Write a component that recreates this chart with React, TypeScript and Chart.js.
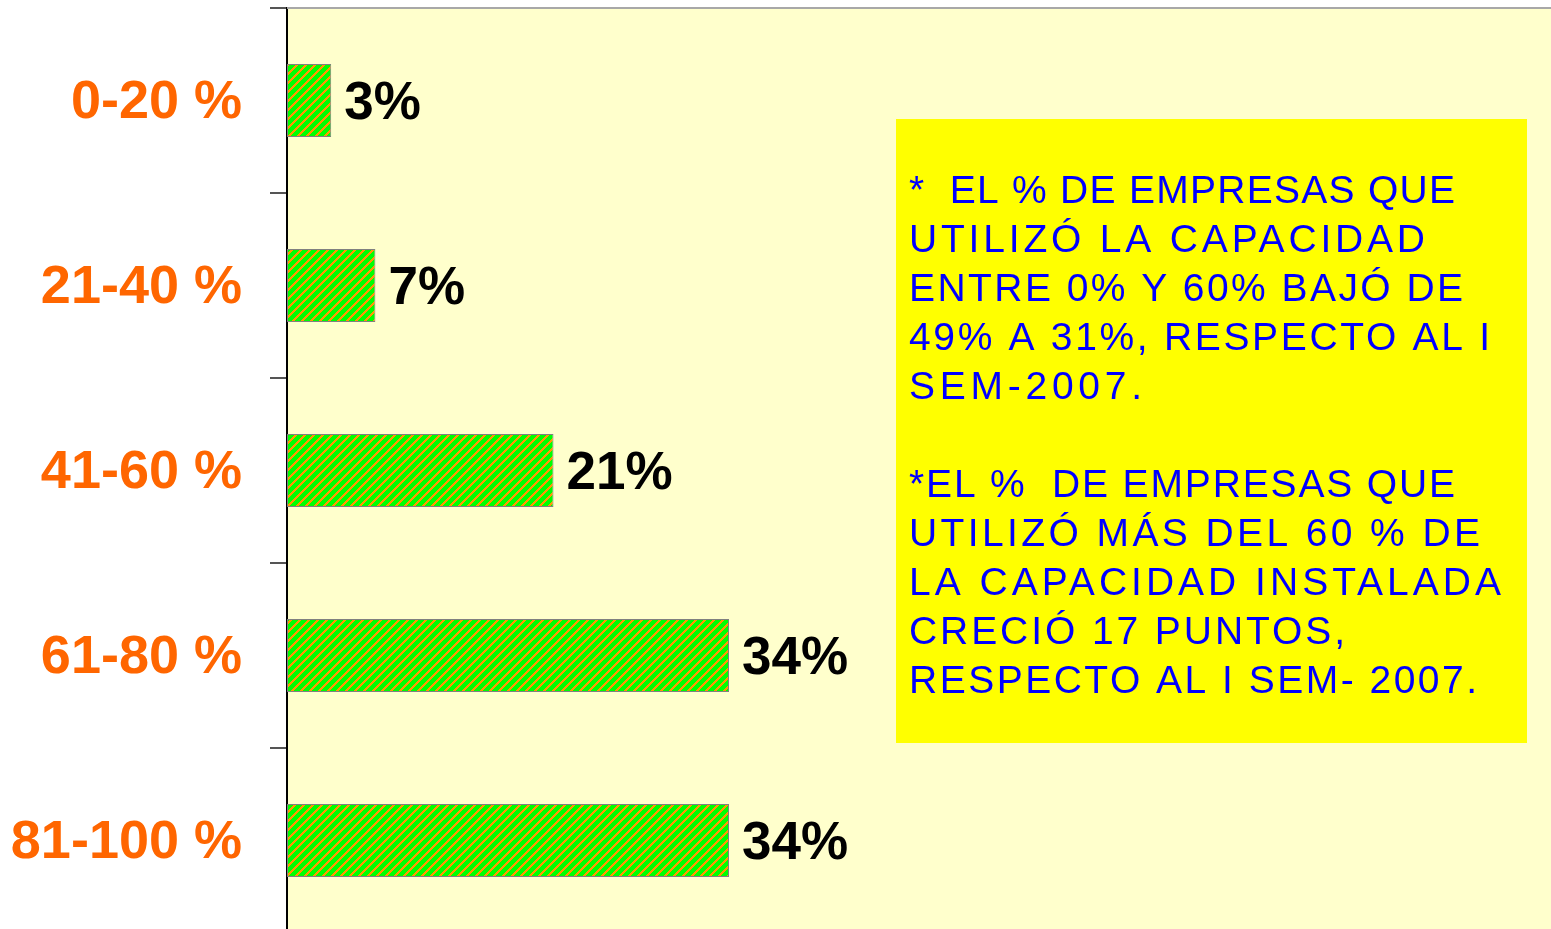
import React, { useEffect, useRef } from "react";
import { Chart, registerables } from "chart.js";

Chart.register(...registerables);

const categories = ["0-20 %", "21-40 %", "41-60 %", "61-80 %", "81-100 %"];
const values = [3.4, 6.8, 20.5, 34, 34];
const xMin = 0;
const xMax = 100;

const noteParagraph1 = [
  "*  EL % DE EMPRESAS QUE",
  "UTILIZÓ LA CAPACIDAD",
  "ENTRE 0% Y 60% BAJÓ DE",
  "49% A 31%, RESPECTO AL I",
  "SEM-2007.",
];
const noteParagraph2 = [
  "*EL %  DE EMPRESAS QUE",
  "UTILIZÓ MÁS DEL 60 % DE",
  "LA CAPACIDAD INSTALADA",
  "CRECIÓ 17 PUNTOS,",
  "RESPECTO AL I SEM- 2007.",
];

const FONT = "'Liberation Sans', Arial, sans-serif";

function makePattern(): CanvasPattern | string {
  const P = 9;
  const t = document.createElement("canvas");
  t.width = P;
  t.height = P;
  const c = t.getContext("2d");
  if (!c) return "#00FF00";
  const img = c.createImageData(P, P);
  for (let y = 0; y < P; y++) {
    for (let x = 0; x < P; x++) {
      const i = (y * P + x) * 4;
      const d = (x + y) % P;
      const orange = d < 3;
      if (orange) {
        img.data[i] = 0xff;
        img.data[i + 1] = 0x99;
        img.data[i + 2] = 0x00;
      } else {
        img.data[i] = 0x00;
        img.data[i + 1] = 0xff;
        img.data[i + 2] = 0x00;
      }
      img.data[i + 3] = 255;
    }
  }
  c.putImageData(img, 0, 0);
  const pat = c.createPattern(t, "repeat");
  return pat || "#00FF00";
}

const bgPlugin = {
  id: "bgPlugin",
  beforeDraw(chart: any) {
    const { ctx, chartArea } = chart;
    ctx.save();
    ctx.fillStyle = "#FFFFCC";
    ctx.fillRect(chartArea.left, chartArea.top, chartArea.right - chartArea.left, chartArea.bottom - chartArea.top);
    ctx.restore();
  },
  afterDraw(chart: any) {
    const { ctx, chartArea } = chart;
    ctx.save();
    ctx.strokeStyle = "#A8A8A8";
    ctx.lineWidth = 2;
    ctx.beginPath();
    ctx.moveTo(chartArea.left, chartArea.top);
    ctx.lineTo(chartArea.right, chartArea.top);
    ctx.stroke();
    ctx.restore();
  },
};

const labelPlugin = {
  id: "labelPlugin",
  afterDatasetsDraw(chart: any) {
    const { ctx } = chart;
    const meta = chart.getDatasetMeta(0);
    ctx.save();
    ctx.fillStyle = "#000000";
    ctx.font = `bold 53px ${FONT}`;
    ctx.textAlign = "left";
    ctx.textBaseline = "middle";
    meta.data.forEach((bar: any, i: number) => {
      ctx.fillText(`${Math.round(values[i])}%`, bar.x + 13, bar.y + 4);
    });
    ctx.restore();
  },
};

const noteWidths1 = [546, 516, 554, 581, 233];
const noteWidths2 = [546, 571, 592, 436, 568];

const notePlugin = {
  id: "notePlugin",
  afterDraw(chart: any) {
    const { ctx } = chart;
    ctx.save();
    ctx.fillStyle = "#FFFF00";
    ctx.fillRect(896, 119, 631, 624);
    ctx.fillStyle = "#0000FF";
    ctx.font = `39px ${FONT}`;
    ctx.textAlign = "left";
    ctx.textBaseline = "alphabetic";
    const draw = (lines: string[], widths: number[], y0: number) => {
      lines.forEach((line, i) => {
        (ctx as any).letterSpacing = "0px";
        const w0 = ctx.measureText(line).width;
        const n = Array.from(line).length;
        const sp = n > 1 ? (widths[i] - w0) / (n - 1) : 0;
        (ctx as any).letterSpacing = `${sp}px`;
        ctx.fillText(line, 909, y0 + i * 49);
      });
    };
    draw(noteParagraph1, noteWidths1, 203);
    draw(noteParagraph2, noteWidths2, 497);
    (ctx as any).letterSpacing = "0px";
    ctx.restore();
  },
};

export default function App() {
  const ref = useRef<HTMLCanvasElement | null>(null);
  useEffect(() => {
    document.body.style.margin = "0";
    document.body.style.overflow = "hidden";
    const canvas = ref.current;
    if (!canvas) return;
    const chart = new Chart(canvas, {
      type: "bar",
      data: {
        labels: categories,
        datasets: [
          {
            data: values,
            backgroundColor: makePattern() as any,
            borderColor: "#808080",
            borderWidth: 1,
            borderSkipped: false,
            categoryPercentage: 1,
            barPercentage: 0.395,
          },
        ],
      },
      options: {
        indexAxis: "y",
        animation: false,
        responsive: false,
        maintainAspectRatio: false,
        layout: { padding: { top: 8, right: 3, bottom: 1, left: 0 } },
        plugins: {
          legend: { display: false },
          tooltip: { enabled: false },
          title: { display: false },
        },
        scales: {
          x: {
            display: false,
            min: xMin,
            max: xMax,
          },
          y: {
            position: "left",
            offset: true,
            afterFit(scale: any) {
              scale.width = 287;
              scale.paddingTop = 0;
              scale.paddingBottom = 0;
            },
            border: { display: true, color: "#000000", width: 2 },
            grid: {
              display: true,
              offset: true,
              drawOnChartArea: false,
              drawTicks: true,
              tickLength: 17,
              color: "#555555",
              lineWidth: 2,
            },
            ticks: {
              color: "#FF6600",
              padding: 28,
              labelOffset: 3,
              font: { family: FONT, size: 54, weight: "bold" },
            },
          },
        },
      },
      plugins: [bgPlugin, labelPlugin, notePlugin],
    });
    return () => chart.destroy();
  }, []);
  return (
    <div style={{ position: "fixed", left: 0, top: 0, width: 1590, height: 934, background: "#FFFFFF" }}>
      <canvas ref={ref} width={1590} height={934} style={{ width: 1590, height: 934, display: "block" }} />
    </div>
  );
}
